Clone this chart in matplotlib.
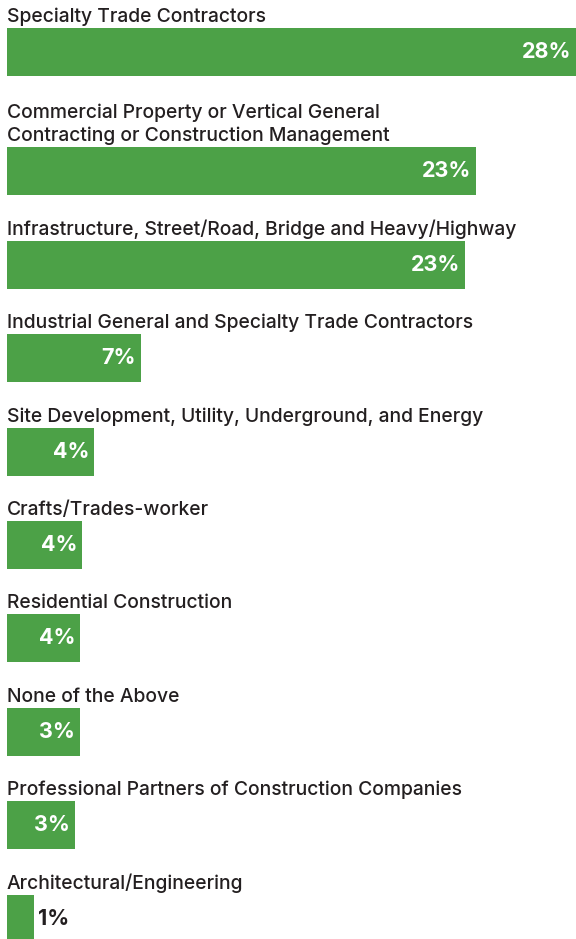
import matplotlib
matplotlib.use("Agg")
import matplotlib.pyplot as plt

categories = [
    "Specialty Trade Contractors",
    "Commercial Property or Vertical General\nContracting or Construction Management",
    "Infrastructure, Street/Road, Bridge and Heavy/Highway",
    "Industrial General and Specialty Trade Contractors",
    "Site Development, Utility, Underground, and Energy",
    "Crafts/Trades-worker",
    "Residential Construction",
    "None of the Above",
    "Professional Partners of Construction Companies",
    "Architectural/Engineering",
]
values = [28.0, 23.1, 22.55, 6.6, 4.3, 3.7, 3.6, 3.6, 3.35, 1.33]
value_labels = ["28%", "23%", "23%", "7%", "4%", "4%", "4%", "3%", "3%", "1%"]

GREEN = "#4ca147"
DARK = "#231f20"
W, H, DPI = 576, 939, 100
FONT = ["Inter", "DejaVu Sans"]

fig = plt.figure(figsize=(W / DPI, H / DPI), dpi=DPI)
ax = fig.add_axes([0, 0, 1, 1])

# layout in pixel units
left_px = 7
px_per_unit = (W - left_px) / values[0]
bar_h = 48
step = 93.4
line_extra = 26

tops = []
t = 28
for i, c in enumerate(categories):
    if i > 0:
        t += step + line_extra * (c.count("\n"))
    tops.append(t)
centers = [tp + bar_h / 2 for tp in tops]

ax.barh(centers, values, height=bar_h, color=GREEN, left=0)
ax.set_xlim(-left_px / px_per_unit, values[0])
ax.set_ylim(H, 0)
ax.axis("off")

for c, tp, cy, v, lab in zip(categories, tops, centers, values, value_labels):
    ax.annotate(c, xy=(0, tp), xytext=(0, 6), textcoords="offset pixels",
                ha="left", va="baseline", fontsize=13.9, fontweight="medium",
                color=DARK, family=FONT, linespacing=1.35)
    if v * px_per_unit > 50:
        ax.annotate(lab, xy=(v, cy), xytext=(-5, 0), textcoords="offset pixels",
                    ha="right", va="center", fontsize=15.5, fontweight="bold",
                    color="white", family=FONT)
    else:
        ax.annotate(lab, xy=(v, cy), xytext=(4, 0), textcoords="offset pixels",
                    ha="left", va="center", fontsize=15.5, fontweight="bold",
                    color=DARK, family=FONT)

fig.savefig("out.png", dpi=DPI)
